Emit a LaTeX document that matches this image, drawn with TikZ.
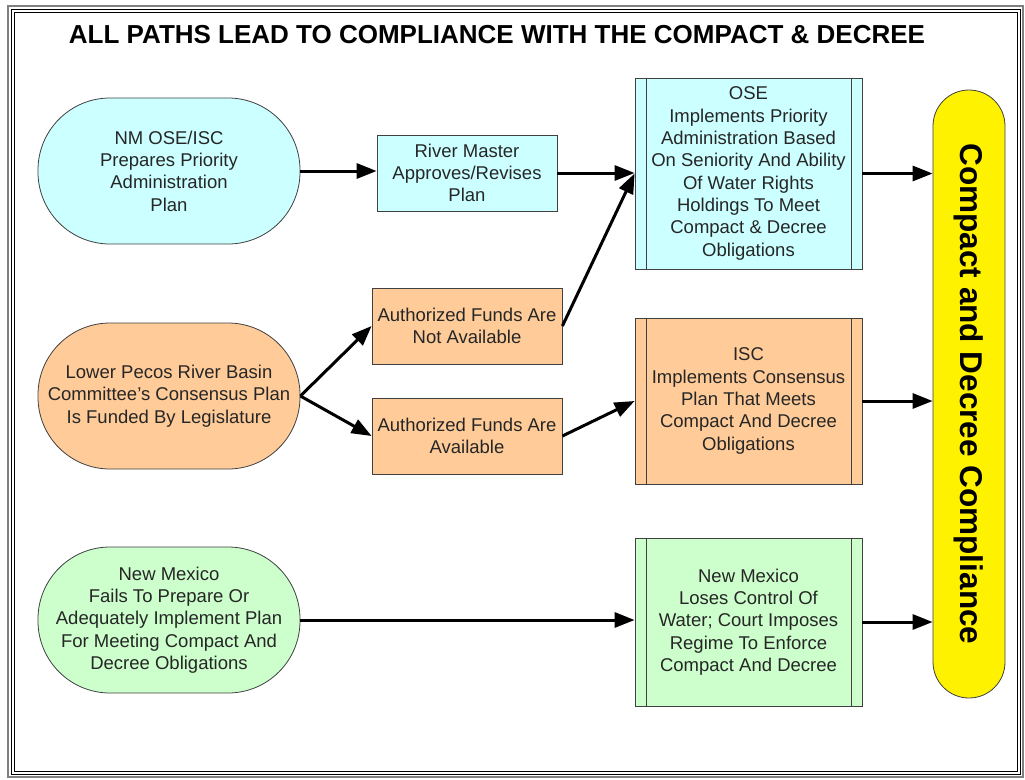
\documentclass[tikz,border=0pt]{standalone}
\usepackage{fontspec}
\setmainfont{Liberation Sans}
\usetikzlibrary{arrows.meta}
\usepackage{xcolor}
\definecolor{paleblue}{HTML}{CCFFFF}
\definecolor{paleorange}{HTML}{FFCC99}
\definecolor{palegreen}{HTML}{CCFFCC}
\definecolor{edgegray}{HTML}{404040}

\begin{document}
\begin{tikzpicture}[
    x=1pt, y=-1pt,
    every node/.style={
        font=\fontsize{18.5}{22.3}\selectfont,
        align=center,
        text=black!85,
        inner sep=0pt,
    },
    termbox/.style={
        draw=edgegray,
        line width=0.8pt,
        minimum width=262pt,
        minimum height=146pt,
        rounded corners=72pt,
    },
    stepbox/.style={
        draw=edgegray,
        line width=0.8pt,
        fill=paleorange,
        minimum width=190pt,
        minimum height=76pt,
    },
    procbox/.style={
        draw=edgegray,
        line width=0.8pt,
        minimum width=227pt,
        path picture={
            \draw[edgegray, line width=0.8pt]
                ([xshift=11pt]path picture bounding box.north west) -- ([xshift=11pt]path picture bounding box.south west)
                ([xshift=-11pt]path picture bounding box.north east) -- ([xshift=-11pt]path picture bounding box.south east);
        },
    },
    flow/.style={
        line width=3pt,
        -{Triangle[length=20pt, width=15pt]},
    },
]
\useasboundingbox (0,0) rectangle (1025,779);

\draw[gray, line width=2pt] (8,6) rectangle (1023,777);
\draw[black, line width=0.7pt] (11,9) rectangle (1020,774);
\draw[black, line width=0.7pt] (14,12) rectangle (1017,771);

\node[font=\fontsize{26}{30}\selectfont\bfseries, text=black] (title) at (497,35)
    {ALL PATHS LEAD TO COMPLIANCE WITH THE COMPACT \& DECREE};

\node[termbox, fill=paleblue] (plan) at (169,171)
    {NM OSE/ISC\\Prepares Priority\\Administration\\Plan};
\node[termbox, fill=paleorange] (consensus) at (169,396)
    {Lower Pecos River Basin\\Committee's Consensus Plan\\Is Funded By Legislature};
\node[termbox, fill=palegreen] (fails) at (169,620)
    {New Mexico\\Fails To Prepare Or\\Adequately Implement Plan\\For Meeting Compact And\\Decree Obligations};

\node[stepbox, fill=paleblue, minimum width=180pt] (master) at (467,173)
    {River Master\\Approves/Revises\\Plan};
\node[stepbox] (notfunds) at (467,326) {Authorized Funds Are\\Not Available};
\node[stepbox] (funds) at (467,436) {Authorized Funds Are\\Available};

\node[procbox, fill=paleblue, minimum height=191pt] (ose) at (748.5,173.5)
    {OSE\\Implements Priority\\Administration Based\\On Seniority And Ability\\Of Water Rights\\Holdings To Meet\\Compact \& Decree\\Obligations};
\node[procbox, fill=paleorange, minimum height=166pt] (isc) at (748.5,401)
    {ISC\\Implements Consensus\\Plan That Meets\\Compact And Decree\\Obligations};
\node[procbox, fill=palegreen, minimum height=168pt] (loses) at (748.5,622)
    {New Mexico\\Loses Control Of\\Water; Court Imposes\\Regime To Enforce\\Compact And Decree};

\node[draw=edgegray, line width=0.8pt, fill=yellow, rounded corners=36pt,
      minimum width=608pt, minimum height=72pt, rotate=-90, text=black,
      font=\fontsize{31.5}{36}\selectfont\bfseries] (goal) at (969,394)
    {Compact and Decree Compliance};

\draw[flow] (plan.east) -- (plan.east -| master.west);
\draw[flow] (master.east) -- (master.east -| ose.west);
\draw[flow] (consensus.east) -- (notfunds.west);
\draw[flow] (consensus.east) -- (funds.west);
\draw[flow] (notfunds.east) -- (ose.west);
\draw[flow] (funds.east) -- (isc.west);
\draw[flow] (fails.east) -- (fails.east -| loses.west);
\draw[flow] (ose.east) -- (goal.south |- ose.east);
\draw[flow] (isc.east) -- (goal.south |- isc.east);
\draw[flow] (loses.east) -- (goal.south |- loses.east);

\end{tikzpicture}
\end{document}
